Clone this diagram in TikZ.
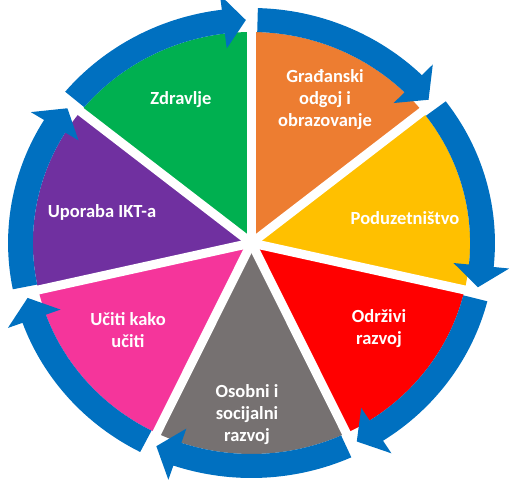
\documentclass[tikz,border=0pt]{standalone}
\usepackage{fontspec}
\setmainfont{Carlito}
\usepackage{tikz}
\usetikzlibrary{calc}
\definecolor{kzdr}{HTML}{00B050}
\definecolor{kgra}{HTML}{ED7D31}
\definecolor{kpod}{HTML}{FFC000}
\definecolor{kodr}{HTML}{FF0000}
\definecolor{koso}{HTML}{767171}
\definecolor{kuci}{HTML}{F5359B}
\definecolor{kupo}{HTML}{7030A0}
\definecolor{kring}{HTML}{0070C0}
\tikzset{
  lbl/.style={text=white, font=\fontsize{18.5}{22}\selectfont\bfseries,
              align=center, inner sep=0pt},
  spoke/.style={white, line width=9pt},
  ringarr/.style={fill=kring},
}

\begin{document}
\begin{tikzpicture}[x=1pt, y=1pt]
  \useasboundingbox (-251.5,-252) rectangle (270.5,243);
  \coordinate (c) at (0,0);
  \begin{scope}[xscale=1.036]
    % wedges
    \foreach \a/\col in {141.43/kzdr, 90/kgra, 38.57/kpod, -12.86/kodr,
                         -64.29/koso, -115.71/kuci, 192.86/kupo}{
      \fill[\col] (c) -- (\a:211) arc[start angle=\a, delta angle=-51.43, radius=211] -- cycle;
    }
    % gaps between the wedges
    \foreach \a in {90, 38.57, -12.86, -64.29, -115.71, -167.14, 141.43}{
      \draw[spoke] (c) -- (\a:262);
    }
    % blue ring arrows, clockwise
    \foreach \a in {141.43, 90, 38.57, -12.86, -64.29, -115.71, 192.86}{
      \pgfmathsetmacro{\st}{\a-1.5}
      \pgfmathsetmacro{\hd}{\a-51.43+7}
      \pgfmathsetmacro{\tp}{\a-51.43+1.4}
      \fill[ringarr] (\st:235) arc[start angle=\st, end angle=\hd, radius=235]
        -- (\hd:250) -- (\tp:223) -- (\hd:196) -- (\hd:211)
        arc[start angle=\hd, end angle=\st, radius=211] -- cycle;
    }
  \end{scope}
  % labels
  \foreach \nm/\x/\y/\txt in {
    zdr/-70.5/143/Zdravlje,
    gra/73.5/143/{Građanski\\odgoj i\\obrazovanje},
    pod/153.5/25/Poduzetništvo,
    odr/127.5/-86/{Održivi\\razvoj},
    oso/-4.5/-172/{Osobni i\\socijalni\\razvoj},
    uci/-123.5/-87/{Učiti kako\\učiti},
    upo/-149.5/31/Uporaba IKT-a}{
    \node[lbl] (\nm) at (\x,\y) {\txt};
  }
\end{tikzpicture}
\end{document}
